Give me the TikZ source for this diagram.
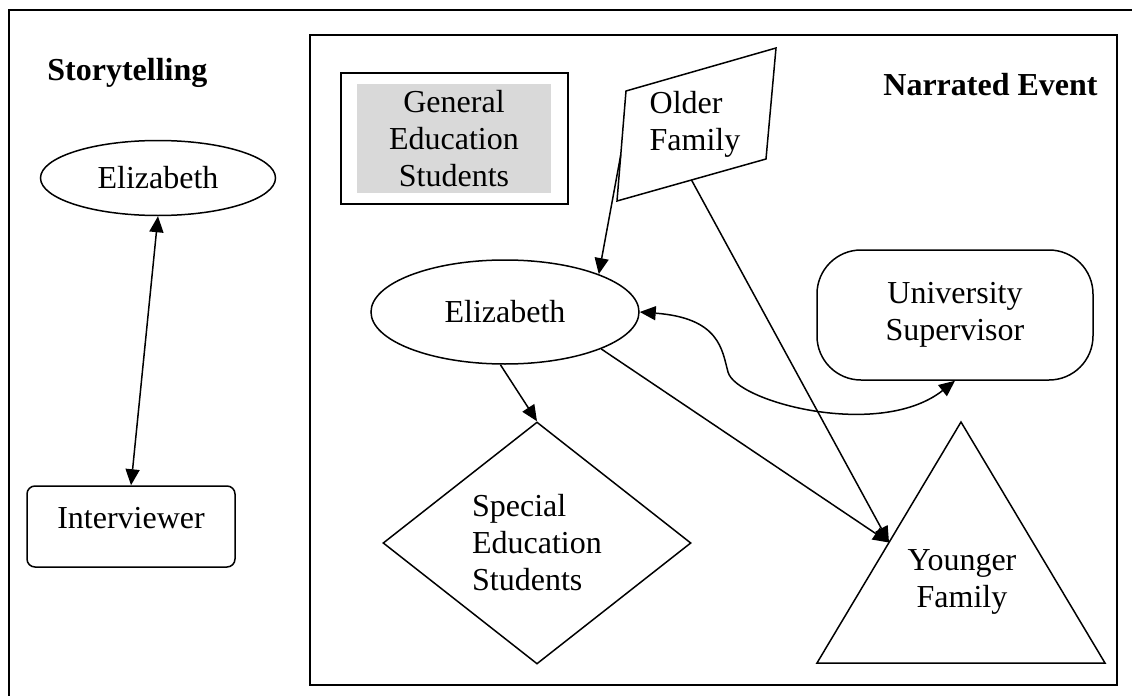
\documentclass[tikz,border=0pt]{standalone}
\usepackage{fontspec}
\setmainfont{Liberation Serif}
\usetikzlibrary{shapes.geometric,arrows.meta,calc}
\definecolor{gengray}{RGB}{217,217,217}
\begin{document}
\begin{tikzpicture}[x=0.5pt,y=-0.5pt,
  every node/.style={font=\fontsize{16}{18.5}\selectfont},
  thinline/.style={line width=0.75pt},
  conn/.style={line width=0.75pt,-{Triangle[length=8pt,width=7pt]}},
  bconn/.style={line width=0.75pt,{Triangle[length=8pt,width=7pt]}-{Triangle[length=8pt,width=7pt]}},
  ell/.style={draw,line width=0.75pt,ellipse,inner sep=0pt},
  framebox/.style={draw,line width=1pt},
  ttl/.style={font=\fontsize{16}{18.5}\selectfont\bfseries,inner sep=0pt}
]
\useasboundingbox (0,0) rectangle (1132,696);
\clip (0,0) rectangle (1132,696);
% frames
\draw[framebox] (9,10) rectangle (1160,720);
\draw[framebox] (310,35) rectangle (1117,685);

% Storytelling side
\node[ttl,anchor=base west] (story) at (47,80) {Storytelling};
\node[ell,minimum width=117.5pt,minimum height=37.5pt] (eliz1) at (158,178) {Elizabeth};
\node[draw,thinline,rounded corners=4pt,minimum width=104pt,minimum height=40.5pt,text depth=9pt] (interv) at (131,526.5) {Interviewer};
\draw[bconn] (eliz1.south) -- (interv.north);

% Narrated event side
\node[ttl,anchor=base east] (narr) at (1098,96) {Narrated Event};

\node[draw,thinline,minimum width=113.5pt,minimum height=65.5pt] (genbox) at (454.5,138.5) {};
\node[fill=gengray,minimum width=97pt,minimum height=54.5pt,align=center,inner sep=0pt] (gen) at (454,138.5) {General\\Education\\Students};

% Older family parallelogram
\coordinate (oTL) at (626,91);
\coordinate (oTR) at (776,48);
\coordinate (oBR) at (766,159);
\coordinate (oBL) at (617,201);
\draw[thinline] (oTL) -- (oTR) -- (oBR) -- (oBL) -- cycle;
\node[align=left,inner sep=0pt] (older) at (695,124) {Older\\Family};
\coordinate (oleft) at ($(oTL)!0.58!(oBL)$);
\coordinate (obottom) at ($(oBL)!0.5!(oBR)$);

% Elizabeth (narrated)
\node[ell,minimum width=134pt,minimum height=52pt] (eliz2) at (505,312) {Elizabeth};

% University supervisor
\node[draw,thinline,rounded corners=22pt,minimum width=138pt,minimum height=65pt,align=center,inner sep=0pt] (univ) at (955,315) {University\\Supervisor};

% Special education diamond
\node[draw,thinline,diamond,minimum width=154pt,minimum height=121pt,inner sep=0pt,align=left] (special) at (537,543) {Special\\Education\\Students};

% Younger family triangle
\coordinate (tA) at (961,422);
\coordinate (tL) at (817,663);
\coordinate (tR) at (1105,663);
\draw[thinline] (tA) -- (tL) -- (tR) -- cycle;
\node[align=center,inner sep=0pt] (younger) at (962,582) {Younger\\Family};
\coordinate (yin) at ($(tA)!0.5!(tL)$);

% connectors
\draw[conn] (oleft) -- (eliz2.22);
\draw[conn] (eliz2.265) -- (special.north);
\draw[conn] (eliz2.-21) -- (yin);
\draw[conn] (obottom) -- (yin);
\draw[bconn] (eliz2.east) .. controls (720,318) and (722,350) .. (728,372) .. controls (736,402) and (880,440) .. (univ.south);
\end{tikzpicture}
\end{document}
